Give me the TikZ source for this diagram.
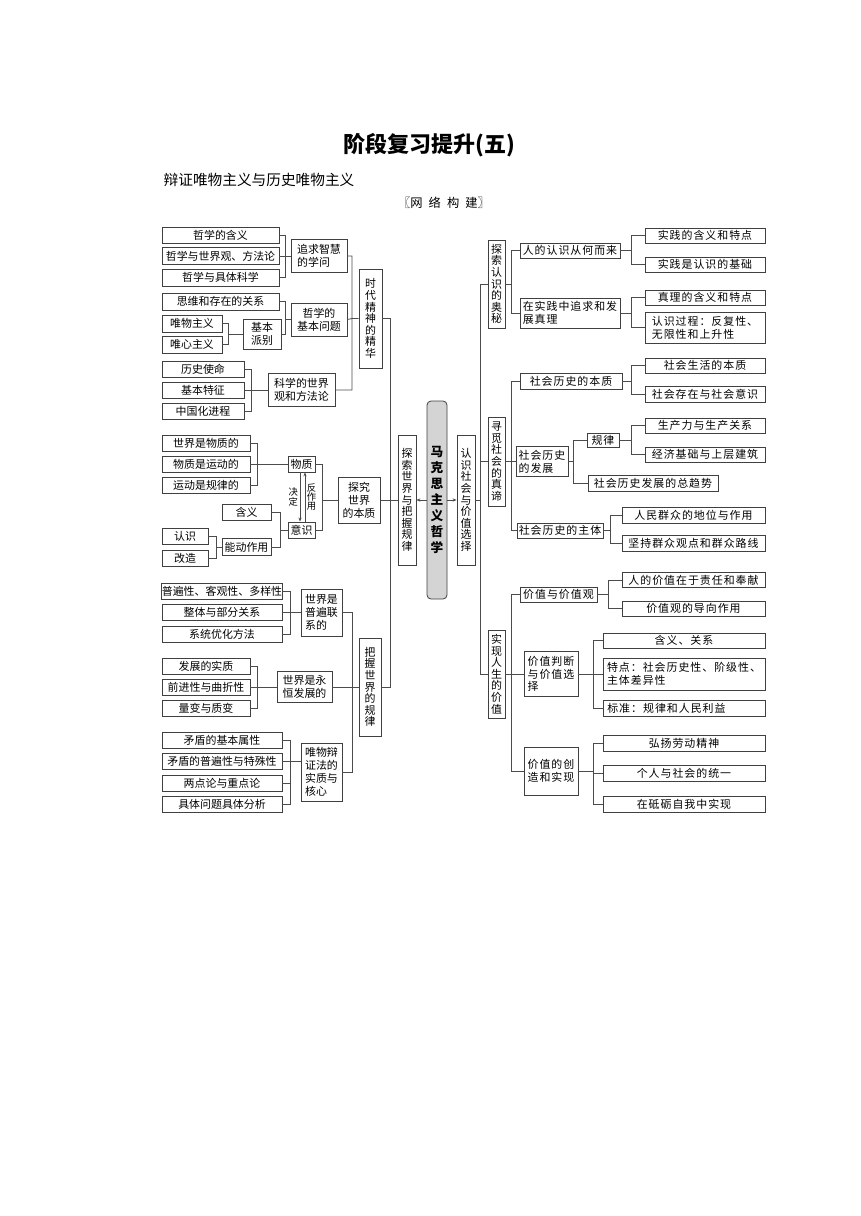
\documentclass[tikz,border=0pt]{standalone}
\usepackage{fontspec}
\setmainfont{Noto Sans CJK SC}
\newfontfamily\widecjk[LetterSpace=9]{Noto Sans CJK SC}
\usetikzlibrary{arrows.meta}

\newcommand\boxfont{\fontsize{8.2pt}{9.8pt}\selectfont\lineskiplimit=-5pt\lineskip=0pt\relax}
\newcommand\vertfont{\fontsize{8.2pt}{8.7pt}\selectfont\lineskiplimit=-5pt\lineskip=0pt\relax}
\newcommand\widefont{\widecjk\fontsize{8.2pt}{9.6pt}\selectfont\lineskiplimit=-5pt\lineskip=0pt\relax}
\newcommand\lblfont{\fontsize{7pt}{7pt}\selectfont\lineskiplimit=-5pt\lineskip=0pt\relax}
\newcommand\topfont{\fontsize{9.5pt}{12pt}\selectfont\bfseries\lineskiplimit=-5pt\lineskip=0pt\relax}

\tikzset{
  bx/.style={draw=black!75, line width=0.6pt, inner sep=0pt, font=\boxfont, align=center},
  vbx/.style={bx, font=\vertfont},
  wbx/.style={bx, font=\widefont},
  sz/.style 2 args={minimum width=#1*0.75pt, minimum height=#2*0.75pt},
  link/.style={draw=black!70, line width=0.6pt},
  arr/.style={-{Stealth[length=3pt,width=2.4pt]}},
  lbl/.style={font=\lblfont, align=center, inner sep=1.2pt},
}

\begin{document}
\begin{tikzpicture}[x=0.75pt, y=-0.75pt]
  \useasboundingbox (0,0) rectangle (860,1216);

  \node (title) at (429.5,145) {\fontsize{16.5pt}{18pt}\selectfont\bfseries 阶段复习提升(五)};
  \node[anchor=west] (sub) at (159,180) {\fontsize{11pt}{13pt}\selectfont 辩证唯物主义与历史唯物主义};
  \node (net) at (444,203) {\fontsize{9.2pt}{11pt}\selectfont 〖网\hspace{0.5em}络\hspace{0.5em}构\hspace{0.5em}建〗};

  % 时代精神的精华
  \node[bx, sz={117}{16}] (zx1) at (220.5,235) {哲学的含义};
  \node[bx, sz={117}{17}] (zx2) at (220.5,256) {哲学与世界观、方法论};
  \node[bx, sz={117}{17}] (zx3) at (220.5,277.5) {哲学与具体科学};
  \node[bx, sz={56}{33}, align=left] (zhxw) at (319,256) {追求智慧\\的学问};
  \node[bx, sz={117}{17}] (sw) at (220.5,301.5) {思维和存在的关系};
  \node[bx, sz={60}{17}] (wwzy) at (192,323.5) {唯物主义};
  \node[bx, sz={60}{17}] (wxzy) at (192,344.5) {唯心主义};
  \node[bx, sz={38}{30}] (jbpb) at (262,334) {基本\\派别};
  \node[bx, sz={56}{33}] (jbwt) at (319,319.5) {哲学的\\基本问题};
  \node[bx, sz={82}{16}] (ls1) at (203,369) {历史使命};
  \node[bx, sz={82}{16}] (ls2) at (203,390) {基本特征};
  \node[bx, sz={82}{16}] (ls3) at (203,411) {中国化进程};
  \node[bx, sz={67}{33}] (kxsj) at (301.5,390) {科学的世界\\观和方法论};
  \node[vbx, sz={23}{99}] (sdjs) at (370.5,318.5) {时\\代\\精\\神\\的\\精\\华};

  \coordinate (j1) at (285,256);
  \coordinate (j2) at (285,319.5);
  \coordinate (j3) at (228,334);
  \coordinate (j4) at (251,390);
  \coordinate (j5) at (352,318.5);
  \draw[link] (zx1.east) -| (j1) (zx2.east) -- (j1) (zx3.east) -| (j1) (j1) -- (zhxw.west);
  \draw[link] (sw.east) -| (j2) (jbpb.east) -| (j2) (j2) -- (jbwt.west);
  \draw[link] (wwzy.east) -| (j3) (wxzy.east) -| (j3) (j3) -- (jbpb.west);
  \draw[link] (ls1.east) -| (j4) (ls2.east) -- (j4) (ls3.east) -| (j4) (j4) -- (kxsj.west);
  \draw[link] (zhxw.east) -| (j5) (jbwt.east) -- (j5) (kxsj.east) -| (j5) (j5) -- (sdjs.west);

  % 探究世界的本质
  \node[bx, sz={88}{16}] (wz1) at (206,443) {世界是物质的};
  \node[bx, sz={88}{16}] (wz2) at (206,464) {物质是运动的};
  \node[bx, sz={88}{16}] (wz3) at (206,485) {运动是规律的};
  \node[bx, sz={27}{16}] (wuzhi) at (301.5,464) {物质};
  \node[bx, sz={27}{16}] (yishi) at (301.5,530) {意识};
  \node[bx, sz={49}{16}] (hy) at (246.5,512) {含义};
  \node[bx, sz={49}{17}] (nd) at (246.5,547) {能动作用};
  \node[bx, sz={46}{16}] (rs) at (185,536) {认识};
  \node[bx, sz={46}{16}] (gz) at (185,558) {改造};
  \node[bx, sz={42}{46}] (tjsj) at (359,500) {探究\\世界\\的本质};

  \coordinate (j6) at (257,464);
  \coordinate (j7) at (322,500);
  \coordinate (j8) at (280,530);
  \coordinate (j9) at (216,547);
  \draw[link] (wz1.east) -| (j6) (wz2.east) -- (j6) (wz3.east) -| (j6) (j6) -- (wuzhi.west);
  \draw[link] (wuzhi.east) -| (j7) (yishi.east) -| (j7) (j7) -- (tjsj.west);
  \draw[link] (hy.east) -| (j8) (nd.east) -| (j8) (j8) -- (yishi.west);
  \draw[link] (rs.east) -| (j9) (gz.east) -| (j9) (j9) -- (nd.west);
  \draw[link, arr] ([xshift=-1.1pt]wuzhi.south) -- node[lbl, left] {决\\定} ([xshift=-1.1pt]yishi.north);
  \draw[link, arr] ([xshift=2.6pt]yishi.north) -- node[lbl, right] {反\\作\\用} ([xshift=2.6pt]wuzhi.south);

  % 把握世界的规律
  \node[bx, sz={120}{16}] (lx1) at (222,591) {普遍性、客观性、多样性};
  \node[bx, sz={120}{16}] (lx2) at (222,612.5) {整体与部分关系};
  \node[bx, sz={120}{16}] (lx3) at (222,634) {系统优化方法};
  \node[bx, sz={41}{47}, align=left] (pblx) at (321.5,612.5) {世界是\\普遍联\\系的};
  \node[bx, sz={88}{16}] (fz1) at (206,666) {发展的实质};
  \node[bx, sz={88}{16}] (fz2) at (206,687) {前进性与曲折性};
  \node[bx, sz={88}{16}] (fz3) at (206,708) {量变与质变};
  \node[bx, sz={55}{31}] (yhfz) at (304.5,687) {世界是永\\恒发展的};
  \node[bx, sz={120}{16}] (md1) at (222,740.5) {矛盾的基本属性};
  \node[bx, sz={120}{16}] (md2) at (222,761.5) {矛盾的普遍性与特殊性};
  \node[bx, sz={120}{16}] (md3) at (222,783) {两点论与重点论};
  \node[bx, sz={120}{16}] (md4) at (222,804) {具体问题具体分析};
  \node[bx, sz={41}{58}, align=left] (bzf) at (321.5,772) {唯物辩\\证法的\\实质与\\核心};
  \node[vbx, sz={22}{98}] (bwgl) at (370,687) {把\\握\\世\\界\\的\\规\\律};

  \coordinate (j10) at (290,612.5);
  \coordinate (j11) at (257,687);
  \coordinate (j12) at (290,761.5);
  \coordinate (j13) at (352,687);
  \draw[link] (lx1.east) -| (j10) (lx2.east) -- (j10) (lx3.east) -| (j10) (j10) -- (pblx.west);
  \draw[link] (fz1.east) -| (j11) (fz2.east) -- (j11) (fz3.east) -| (j11) (j11) -- (yhfz.west);
  \draw[link] (md1.east) -| (j12) (md2.east) -- (j12) (md3.east) -| (j12) (md4.east) -| (j12) (j12) -- (j12 -| bzf.west);
  \draw[link] (pblx.east) -| (j13) (yhfz.east) -- (j13) (bzf.east) -| (j13) (j13) -- (bwgl.west);

  % center
  \node[vbx, sz={18}{130}] (tsbg) at (407,500) {探\\索\\世\\界\\与\\把\\握\\规\\律};
  \node[bx, sz={20}{198}, fill=black!17, rounded corners=3pt, font=\topfont] (mks) at (437,500) {马\\克\\思\\主\\义\\哲\\学};
  \node[vbx, sz={18}{130}] (rsjz) at (466,500) {认\\识\\社\\会\\与\\价\\值\\选\\择};

  \coordinate (jl) at (390,500);
  \coordinate (jr) at (480,500);
  \draw[link] (sdjs.east) -| (jl) (tjsj.east) -- (jl) (bwgl.east) -| (jl) (jl) -- (tsbg.west);
  \draw[link, arr] (mks) -- (tsbg);
  \draw[link, arr] (mks) -- (rsjz);

  % 认识社会与价值选择
  \node[vbx, sz={17}{88}] (tsrs) at (496.5,284) {探\\索\\认\\识\\的\\奥\\秘};
  \node[vbx, sz={17}{89}] (xmsh) at (496.5,461.5) {寻\\觅\\社\\会\\的\\真\\谛};
  \node[vbx, sz={17}{88}] (sxrs) at (496.5,674) {实\\现\\人\\生\\的\\价\\值};
  \draw[link] (rsjz.east) -- (jr) (jr) |- (tsrs.west) (jr) |- (xmsh.west) (jr) |- (sxrs.west);

  % 探索认识的奥秘
  \node[wbx, sz={100}{15}] (rshl) at (570,250.5) {人的认识从何而来};
  \node[wbx, sz={100}{30}, align=left] (zlzq) at (570,313) {在实践中追求和发\\展真理};
  \node[wbx, sz={120}{15}] (sj1) at (705,235.5) {实践的含义和特点};
  \node[wbx, sz={120}{15}] (sj2) at (705,264.5) {实践是认识的基础};
  \node[wbx, sz={120}{15}] (zl1) at (705,297.5) {真理的含义和特点};
  \node[wbx, sz={120}{31}, align=left] (zl2) at (705,327.5) {认识过程：反复性、\\无限性和上升性};

  \coordinate (k1) at (511,284);
  \coordinate (k2) at (631,250.5);
  \coordinate (k3) at (631,313);
  \draw[link] (tsrs.east) -- (k1) (k1) |- (rshl.west) (k1) |- (zlzq.west);
  \draw[link] (rshl.east) -- (k2) (k2) |- (sj1.west) (k2) |- (sj2.west);
  \draw[link] (zlzq.east) -- (k3) (k3) |- (zl1.west) (k3) |- (zl2.west);

  % 寻觅社会的真谛
  \node[wbx, sz={102}{16}] (lsbz) at (571,381) {社会历史的本质};
  \node[wbx, sz={120}{15}] (bz1) at (705,365.5) {社会生活的本质};
  \node[wbx, sz={120}{16}] (bz2) at (705,394.5) {社会存在与社会意识};
  \node[wbx, sz={52}{30}, align=left] (lsfz) at (542,461.5) {社会历史\\的发展};
  \node[wbx, sz={32}{14}] (gl) at (603,440) {规律};
  \node[wbx, sz={120}{15}] (gl1) at (705,425.5) {生产力与生产关系};
  \node[wbx, sz={120}{15}] (gl2) at (705,454.5) {经济基础与上层建筑};
  \node[wbx, sz={130}{16}] (zqs) at (653,483) {社会历史发展的总趋势};
  \node[wbx, sz={86}{15}] (lszt) at (560,530.5) {社会历史的主体};
  \node[wbx, sz={143}{16}] (qz1) at (693.5,515) {人民群众的地位与作用};
  \node[wbx, sz={143}{16}] (qz2) at (693.5,543) {坚持群众观点和群众路线};

  \coordinate (k4) at (511,461.5);
  \coordinate (k5) at (631,381);
  \coordinate (k6) at (573,461.5);
  \coordinate (k7) at (631,440);
  \coordinate (k8) at (610,530.5);
  \draw[link] (xmsh.east) -- (k4) (k4) |- (lsbz.west) (k4) -- (lsfz.west) (k4) |- (lszt.west);
  \draw[link] (lsbz.east) -- (k5) (k5) |- (bz1.west) (k5) |- (bz2.west);
  \draw[link] (lsfz.east) -- (k6) (k6) |- (gl.west) (k6) |- (zqs.west);
  \draw[link] (gl.east) -- (k7) (k7) |- (gl1.west) (k7) |- (gl2.west);
  \draw[link] (lszt.east) -- (k8) (k8) |- (qz1.west) (k8) |- (qz2.west);

  % 实现人生的价值
  \node[wbx, sz={77}{15}] (jzg) at (558.5,594.5) {价值与价值观};
  \node[wbx, sz={143}{15}] (jg1) at (693.5,580) {人的价值在于责任和奉献};
  \node[wbx, sz={143}{15}] (jg2) at (693.5,608.5) {价值观的导向作用};
  \node[wbx, sz={54}{45}, align=left] (jzpd) at (551,674) {价值判断\\与价值选\\择};
  \node[wbx, sz={162}{15}] (pd1) at (684,640.5) {含义、关系};
  \node[wbx, sz={162}{32}, align=left] (pd2) at (684,674) {特点：社会历史性、阶级性、\\主体差异性};
  \node[wbx, sz={162}{16}, text width=115pt, align=left, inner xsep=3pt] (pd3) at (684,708) {标准：规律和人民利益};
  \node[wbx, sz={54}{48}, align=left] (jzcz) at (551,771) {价值的创\\造和实现};
  \node[wbx, sz={162}{16}] (cz1) at (684,743) {弘扬劳动精神};
  \node[wbx, sz={162}{16}] (cz2) at (684,773) {个人与社会的统一};
  \node[wbx, sz={162}{16}] (cz3) at (684,804) {在砥砺自我中实现};

  \coordinate (k9) at (511,674);
  \coordinate (k10) at (608,594.5);
  \coordinate (k11) at (593,674);
  \coordinate (k12) at (593,771);
  \draw[link] (sxrs.east) -- (k9) (k9) |- (jzg.west) (k9) -- (jzpd.west) (k9) |- (jzcz.west);
  \draw[link] (jzg.east) -- (k10) (k10) |- (jg1.west) (k10) |- (jg2.west);
  \draw[link] (jzpd.east) -- (k11) (k11) |- (pd1.west) (k11) -- (pd2.west) (k11) |- (pd3.west);
  \draw[link] (jzcz.east) -- (k12) (k12) |- (cz1.west) (k12) |- (cz2.west) (k12) |- (cz3.west);
\end{tikzpicture}
\end{document}
